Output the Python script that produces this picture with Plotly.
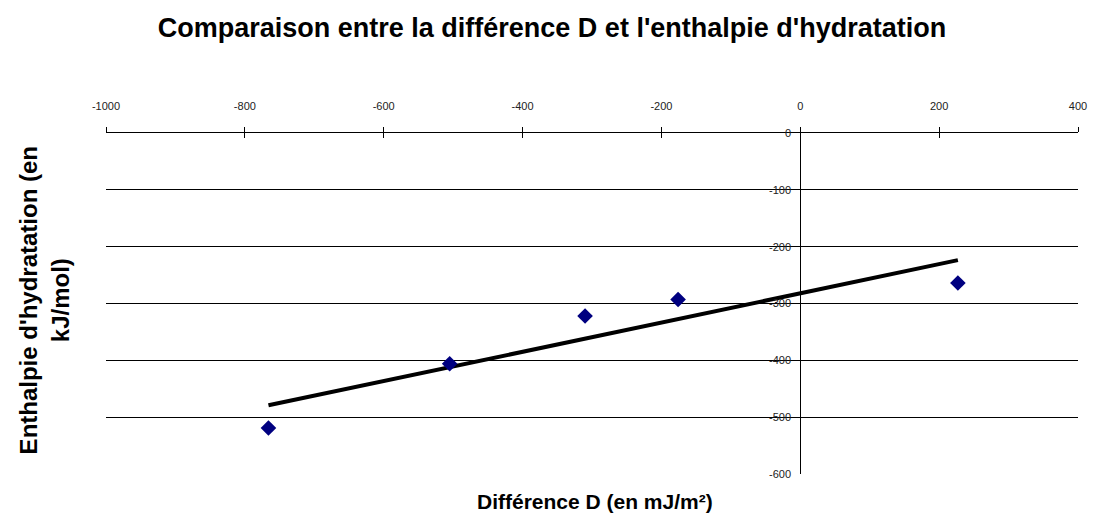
import numpy as np
import plotly.graph_objects as go

# Data (alkali metal cations)
diff_D = [-766, -505, -310, -176, 227]          # Différence D (mJ/m²)
enthalpie = [-519, -406, -322, -293, -264]      # Enthalpie d'hydratation (kJ/mol)

x_ticks = [-1000, -800, -600, -400, -200, 0, 200, 400]
x_ticktext = ["-1000", "-800", "-600", "-400", "-200", "0", "200", "400"]
y_ticks = [0, -100, -200, -300, -400, -500, -600]
y_ticktext = ["0", "-100", "-200", "-300", "-400", "-500", "-600"]

# Linear trend line computed from the data
slope, intercept = np.polyfit(diff_D, enthalpie, 1)
trend_x = [min(diff_D), max(diff_D)]
trend_y = [slope * v + intercept for v in trend_x]

W, H = 1091, 521          # page body has an 8px margin
L, R, T, B = 98, 15, 125, 55
PX0, PX1, PY0, PY1 = 106, 1084, 133, 474   # plot area in page pixels


def px(xp):
    return (xp - PX0) / (PX1 - PX0)


def py(yp):
    return (PY1 - yp) / (PY1 - PY0)


fig = go.Figure()
fig.add_trace(go.Scatter(
    x=trend_x, y=trend_y, mode="lines",
    line=dict(color="black", width=4), showlegend=False, hoverinfo="skip"))
fig.add_trace(go.Scatter(
    x=diff_D, y=enthalpie, mode="markers",
    marker=dict(symbol="diamond", size=12, color="#000080"),
    showlegend=False))
# dummy trace for overlaying axis (ticks pointing down)
fig.add_trace(go.Scatter(x=[None], y=[None], xaxis="x2", showlegend=False))

fig.update_layout(
    width=W, height=H,
    paper_bgcolor="white", plot_bgcolor="white",
    margin=dict(l=L, r=R, t=T, b=B),
    font=dict(family="Liberation Sans, Arial, sans-serif", color="black"),
    title=dict(text="<b>Comparaison entre la différence D et l'enthalpie d'hydratation</b>",
               xref="container", yref="container",
               x=(552 - 8) / W, xanchor="center", y=1 - (28 - 8) / H, yanchor="middle",
               font=dict(size=27, color="black")),
    xaxis=dict(range=[-1000, 400], side="top", tickvals=x_ticks, ticktext=x_ticktext,
               ticks="outside", ticklen=5, tickcolor="black",
               showline=True, linecolor="black", linewidth=1,
               showgrid=False, zeroline=False,
               tickfont=dict(size=11, color="#222"), ticklabelstandoff=13),
    xaxis2=dict(range=[-1000, 400], overlaying="x", side="top", tickvals=x_ticks,
                ticks="inside", ticklen=5, tickcolor="black",
                showticklabels=False, showline=False, showgrid=False,
                zeroline=False, anchor="y"),
    yaxis=dict(range=[-600, 0], tickvals=y_ticks, ticktext=y_ticktext, anchor="free",
               position=1000 / 1400, side="left",
               showline=True, linecolor="black", linewidth=1,
               showgrid=True, gridcolor="black", gridwidth=1,
               zeroline=False, ticks="", ticklabelstandoff=7,
               tickfont=dict(size=11, color="#222")),
    annotations=[
        dict(text="<b>Différence D (en mJ/m²)</b>", xref="paper", yref="paper",
             x=px(598), y=py(501), xanchor="center",
             yanchor="middle", showarrow=False, font=dict(size=21, color="black")),
        dict(text="<b>Enthalpie d'hydratation (en<br>kJ/mol)</b>", xref="paper",
             yref="paper", x=px(44), y=py(300),
             xanchor="center", yanchor="middle", textangle=-90, showarrow=False,
             font=dict(size=24, color="black")),
    ],
)

fig.write_html("out.html")
